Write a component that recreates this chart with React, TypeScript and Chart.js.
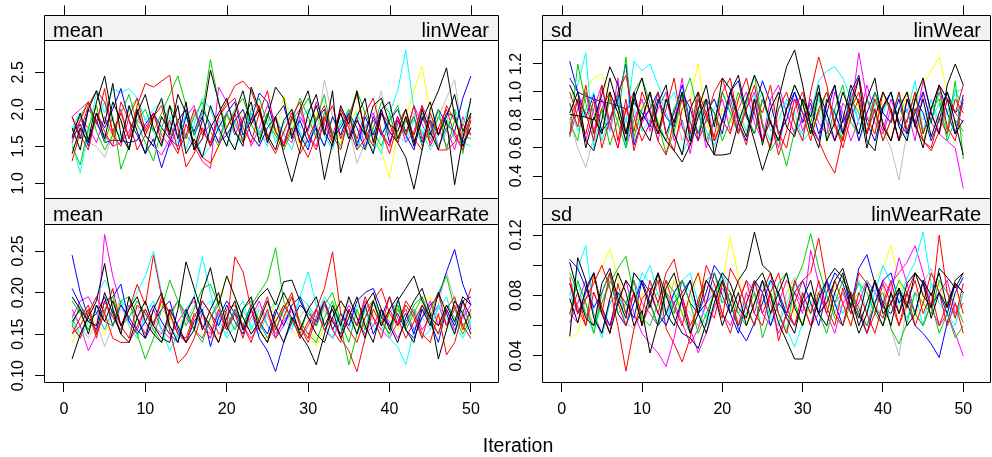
import React, { useEffect, useRef } from "react";
import { Chart, registerables } from "chart.js";

Chart.register(...registerables);

// ---------------- data ----------------
const iterations = [
  1, 2, 3, 4, 5, 6, 7, 8, 9, 10, 11, 12, 13, 14, 15, 16, 17, 18, 19, 20, 21, 22, 23, 24, 25,
  26, 27, 28, 29, 30, 31, 32, 33, 34, 35, 36, 37, 38, 39, 40, 41, 42, 43, 44, 45, 46, 47, 48, 49, 50,
];
const xTickValues = [0, 10, 20, 30, 40, 50];
const xTickLabels = ["0", "10", "20", "30", "40", "50"];

const chainColors = [
  "#000000", "#000000", "#000000", "#FF0000", "#FF0000", "#FF0000", "#00CD00", "#00CD00",
  "#0000FF", "#0000FF", "#00FFFF", "#00FFFF", "#FF00FF", "#FF00FF", "#FFFF00", "#BEBEBE",
];

const meanLinWear = [
  [1.62,1.95,1.58,2.10,2.45,1.85,1.55,2.05,1.70,1.40, 1.90,2.15,1.65,2.20,1.95,1.45,1.60,2.05,1.75,1.50, 1.95,2.25,1.80,2.00,1.55,1.90,1.40,1.02,1.45,1.95, 2.20,1.70,1.50,2.05,1.80,2.25,1.65,1.40,1.95,1.70, 1.55,1.35,0.92,1.45,2.00,2.25,2.56,1.90,1.50,1.75],
  [1.75,1.45,2.00,2.25,1.80,2.35,1.65,1.45,1.95,2.20, 1.75,1.50,2.05,1.60,2.10,1.45,1.85,2.53,2.10,1.65, 1.45,1.85,2.10,1.55,1.90,2.30,2.15,1.60,2.00,2.25, 1.75,1.05,1.55,1.95,1.60,1.90,2.15,1.55,2.00,2.10, 1.60,1.90,1.50,2.00,1.70,1.45,1.85,0.98,1.60,2.15],
  [1.40,1.75,1.55,1.95,1.60,2.10,1.85,1.45,2.00,1.65, 1.50,1.90,1.70,2.05,1.40,1.60,1.35,1.75,1.95,2.15, 1.70,1.50,2.30,2.00,1.65,1.45,1.85,2.00,1.55,1.75, 2.05,1.65,2.25,1.14,1.55,1.85,1.65,2.05,2.15,1.80, 1.70,2.00,1.55,1.85,2.10,1.65,1.90,2.20,1.70,1.95],
  [1.30,1.70,2.05,2.25,2.10,1.70,1.95,1.60,2.05,2.35, 2.30,2.38,2.46,1.75,1.22,1.40,1.75,1.50,1.90,2.05, 2.15,1.75,1.55,1.95,2.25,1.70,1.50,1.90,2.10,1.65, 1.45,1.85,2.05,1.60,1.90,2.20,1.70,1.50,1.95,1.80, 1.55,1.90,1.65,2.05,1.50,1.75,2.00,1.65,1.45,1.85],
  [1.55,1.85,2.10,1.80,2.28,1.65,1.50,1.90,2.15,1.70, 1.95,1.55,1.85,1.45,1.65,2.00,1.70,1.55,1.90,2.10, 2.32,2.38,2.25,1.95,1.60,1.90,1.50,1.75,1.40,1.60, 1.85,2.05,1.65,1.45,1.90,1.60,1.95,2.15,1.70,1.50, 1.90,1.65,2.05,1.60,1.85,1.45,1.45,1.55,1.80,1.65],
  [1.90,1.65,1.45,1.95,1.70,1.50,2.10,1.85,1.45,1.65, 1.90,2.05,1.60,1.40,1.80,1.55,1.35,1.27,1.50,1.75, 1.95,1.55,1.80,2.05,1.60,1.40,1.70,1.95,1.55,1.35, 1.65,1.90,1.55,2.00,1.75,1.45,1.60,1.85,1.70,1.40, 1.80,2.00,1.60,1.45,1.95,1.65,2.05,1.85,1.60,1.90],
  [1.50,1.25,1.75,2.05,1.55,1.90,1.19,1.50,1.85,2.00, 1.70,1.95,2.20,2.45,2.05,1.65,1.95,2.67,2.10,1.75, 2.00,2.15,1.80,1.60,1.95,1.70,1.50,1.85,2.15,1.90, 1.60,1.95,1.70,1.50,1.90,2.25,1.95,1.70,1.50,1.85, 2.05,1.65,1.90,1.50,1.75,2.00,1.45,1.85,1.65,1.60],
  [1.70,1.90,2.10,1.70,1.45,1.65,1.95,2.20,1.80,1.55, 1.30,1.75,2.05,1.85,1.60,1.90,2.10,1.70,1.50,1.95, 1.70,1.55,2.00,2.15,1.80,1.65,1.45,1.70,1.95,2.15, 1.85,2.20,1.60,1.80,2.00,1.55,1.45,1.75,2.10,1.95, 1.55,1.85,1.65,1.95,1.60,1.90,1.70,2.00,1.40,1.95],
  [1.60,1.80,1.50,1.95,1.75,2.00,2.28,1.85,1.65,1.40, 1.60,1.21,1.55,1.85,2.00,1.65,1.90,1.50,1.75,1.95, 2.10,1.65,1.85,2.22,2.10,1.70,1.50,1.90,1.65,1.45, 1.85,2.00,1.60,1.75,1.95,1.50,1.90,1.65,2.00,1.55, 1.85,1.65,1.45,1.90,1.65,2.00,1.80,1.70,2.15,2.45],
  [1.90,1.60,2.00,1.85,1.55,1.58,1.58,1.55,1.58,1.80, 1.95,1.75,1.60,1.50,1.90,1.70,2.00,1.80,1.55,1.65, 1.85,2.00,1.65,1.50,1.75,1.90,2.05,1.65,1.85,1.55, 1.75,1.50,1.90,1.65,1.95,1.75,1.45,1.90,1.65,1.85, 2.00,1.70,1.90,1.55,1.85,1.65,1.95,1.90,1.55,1.75],
  [1.55,1.14,1.70,2.22,1.95,2.28,2.22,2.28,2.15,1.85, 1.70,1.50,1.90,1.65,1.45,1.80,2.15,2.00,1.70,1.50, 1.85,1.60,1.95,1.70,1.50,1.90,1.65,1.45,1.85,2.00, 1.70,1.50,1.90,1.65,2.00,1.45,1.80,1.60,1.40,1.95, 2.25,2.80,2.00,1.65,1.90,1.50,1.70,2.00,1.80,2.10],
  [1.75,1.95,1.60,1.85,2.10,1.85,1.60,2.00,2.15,1.85, 2.00,2.10,1.75,1.55,1.95,1.70,1.35,1.50,1.85,1.65, 1.45,1.75,1.95,1.65,1.90,1.55,1.80,2.00,1.70,1.50, 1.90,1.65,1.45,1.85,1.60,1.95,1.70,1.42,1.65,1.90, 1.65,1.55,1.85,1.70,1.45,1.65,1.90,1.60,1.55,1.50],
  [1.90,2.00,2.10,1.80,1.65,1.50,1.55,1.70,1.95,1.65, 1.50,1.38,1.60,1.85,1.65,1.50,1.30,1.20,2.30,2.10, 1.80,1.60,1.90,1.65,1.95,1.70,1.55,1.85,2.00,1.65, 1.50,1.90,1.65,2.00,1.80,1.55,1.75,1.95,1.65,1.50, 1.90,1.65,2.05,1.80,1.55,1.75,1.50,1.70,1.45,1.95],
  [1.65,1.85,1.75,1.55,1.90,1.65,2.00,1.60,1.85,1.75, 1.95,1.65,1.50,1.75,1.90,2.05,1.65,1.80,1.55,1.95, 1.65,1.90,1.50,1.75,2.05,1.85,1.65,1.55,1.90,1.70, 2.10,1.80,1.55,1.95,1.65,1.90,1.50,1.75,2.00,1.65, 1.90,1.55,1.70,2.05,1.80,1.50,1.75,1.45,1.90,1.65],
  [1.45,1.60,1.80,2.05,1.85,1.60,1.85,2.00,2.10,1.65, 1.90,1.70,1.55,1.85,2.00,1.50,1.28,1.20,1.55,1.90, 1.70,2.00,1.80,1.60,1.95,1.65,2.18,1.85,1.50,1.75, 1.95,1.65,1.90,1.55,1.75,2.00,1.80,1.60,1.45,1.07, 1.70,1.90,2.25,2.58,1.95,1.65,1.85,1.60,1.85,1.75],
  [1.70,1.90,1.55,1.50,1.35,1.65,1.85,1.65,2.00,1.75, 1.55,1.90,1.65,1.85,1.60,1.95,1.70,1.55,1.90,1.65, 1.85,1.60,1.95,1.70,1.55,1.90,1.65,2.00,1.75,1.85, 1.65,2.40,1.90,1.60,1.75,1.27,1.55,1.90,2.25,1.70, 1.85,1.60,1.95,1.70,1.55,1.90,2.15,2.40,1.65,1.85],
];

const sdLinWear = [
  [.85,1.00,.65,.58,.80,1.10,.90,.70,1.00,.75, .65,.92,1.05,.70,.55,.88,1.00,.65,.55,.80, 1.00,1.12,.85,.65,.44,.62,.95,1.18,1.30,1.05, .75,.60,.92,1.05,.70,.88,1.10,.65,.58,.90, 1.00,.75,.65,.95,1.10,.85,.70,1.05,1.20,1.05],
  [.84,.83,.82,.80,.98,1.18,1.05,.70,.95,.80, 1.00,.75,.65,.58,.50,.62,.82,.95,.55,.55, .56,.78,.95,1.12,.98,.78,.65,.88,1.05,.92, .70,1.00,.85,.65,.80,1.05,.92,.60,.82,1.00, .88,.65,.95,.78,.60,.88,1.05,.95,.70,.80],
  [1.05,.92,.60,.82,.70,1.00,.85,.65,.95,1.10, .85,.70,.95,.78,1.00,.65,.88,1.05,.75,1.10, 1.02,.82,.68,.95,.62,.88,1.00,.75,.68,.95, .82,1.05,.65,.78,1.00,.85,.70,.95,1.10,.75, .65,.88,1.00,.75,.95,.68,.85,1.00,.78,.55],
  [.92,.75,1.05,.70,.88,1.00,.65,.95,.58,.80, 1.00,.70,.88,1.10,.75,.62,.95,.82,.68,1.00, 1.10,.78,.62,.95,.85,1.05,.70,.60,.88,1.00, .75,.65,.52,.42,.68,.95,1.10,.82,.70,1.00, .85,.65,.80,1.00,.70,.88,1.05,.75,.65,.95],
  [1.00,.82,.70,.95,.60,.80,1.00,1.12,.82,.65, .78,1.00,.70,.58,.88,.95,.65,.80,1.00,1.10, .90,.70,.88,1.05,.75,.60,.88,1.00,.78,.65, 1.00,1.25,1.05,.75,.65,.88,1.00,.70,.95,.78, .65,.88,1.00,.75,.65,.58,.72,.95,.85,1.05],
  [.70,.95,.85,.65,1.05,.78,.60,.88,.72,1.00, .85,.65,.55,.80,.95,.70,1.00,.85,.65,.80, .70,.95,1.10,.85,.65,.80,.55,.72,.95,.85, .65,.88,1.00,.78,.60,.82,.95,.70,.88,.65, .80,1.00,.72,.88,.65,.60,.82,.70,.95,.85],
  [.68,1.20,.92,.70,.88,.62,.80,1.25,.68,.88, 1.00,.78,.56,.72,.95,1.10,.85,.65,.80,1.00, .85,.70,.92,1.12,.78,.58,.68,.47,.72,.95, .78,1.00,.65,.88,1.05,.78,.70,.95,.85,.65, .80,1.00,.72,.88,.65,.80,1.00,.72,1.08,.52],
  [.78,.65,1.00,.85,.70,.95,.78,.60,1.00,1.10, .92,.78,.65,.88,1.00,.78,.70,.95,.85,.65, .80,1.00,.85,.70,.95,.78,.65,.88,1.05,.92, .70,.85,1.00,.78,.65,.95,.85,.70,1.00,.78, .65,.88,.78,1.00,.70,.88,.95,.65,.80,.72],
  [1.22,1.00,.82,.98,.72,.80,.95,1.20,.62,.80, .88,1.00,.70,.85,1.05,.78,.65,.95,.85,.70, 1.00,.78,.65,.88,1.08,.92,.70,.80,1.00,.85, .78,.65,.95,.85,.70,1.00,1.12,.78,.65,.88, 1.00,.78,.70,.95,.85,.65,.80,1.00,.85,.92],
  [1.10,1.00,.97,.95,.93,.92,.90,.88,.92,.85, .75,.95,.82,.75,1.00,.88,.70,.85,.95,.78, 1.00,1.08,.82,.70,.95,.78,.65,.88,1.00,.78, .92,.70,.85,1.05,.78,.92,.65,.85,1.00,.85, .78,.95,.70,.85,1.00,.78,1.05,.85,.70,.98],
  [.95,1.05,1.28,.60,.88,.72,.98,.78,1.22,1.15, 1.20,1.05,.90,1.00,.78,.65,.88,.72,.62,.80, .92,.85,.72,.98,.78,.65,.88,.92,.78,.70, .85,1.08,1.15,1.18,1.10,.95,.78,.70,.92,.85, .78,.98,.85,1.08,.72,.80,.92,.68,1.02,.88],
  [.92,.72,.88,1.00,.65,.82,.95,.60,.88,.72, .80,1.00,.85,.70,.56,.68,.95,.78,.88,1.00, .85,.78,.65,.88,1.00,.72,.80,.95,.85,.65, .72,.95,.78,.88,.65,1.00,.78,.70,.95,.85, 1.00,.78,.65,.88,.72,.95,.78,.85,1.00,1.02],
  [.80,.95,.65,.88,1.05,.72,1.10,.60,.80,.95, .72,.88,1.00,.65,.80,.56,.88,.95,.65,.80, .95,.72,.88,1.00,.65,.80,.60,.88,.95,.72, .88,1.00,.78,.65,.92,.85,1.28,.95,.78,.70, .88,.65,.95,.78,1.08,.85,.70,.65,.60,.31],
  [.68,.88,1.00,.72,.95,.78,.60,.88,1.00,.78, .88,.65,.95,.78,1.10,.70,.88,.60,.80,.95, .72,.88,1.00,.78,.65,.95,1.05,.85,.70,.80, .95,.78,.70,1.00,.85,.65,.80,1.05,.85,.72, .95,.78,.88,.65,1.00,.78,.70,.95,.85,.78],
  [.88,.95,1.02,1.10,1.13,.95,.78,.88,.72,.92, .85,.75,.98,.70,.88,.95,1.20,.78,.65,.88, .78,.95,.70,.88,1.00,.78,.65,.88,.95,.78, .70,.88,.95,.78,.65,1.00,.88,.78,.70,.95, .85,.78,1.00,.92,1.05,1.15,1.25,1.00,.85,.78],
  [.80,.60,.46,.68,.88,.72,.95,.80,.65,.88, .78,.95,.70,.88,.65,.80,.95,.72,.60,.88, .80,.72,.95,.85,.65,.80,1.00,.85,.72,.80, .95,.85,.70,.80,1.00,.85,.65,.80,.88,.72, .60,.37,.72,.88,.80,.95,.72,.88,.80,.68],
];

const meanLinWearRate = [
  [.120,.150,.170,.190,.235,.180,.150,.195,.170,.145, .180,.200,.160,.140,.175,.195,.155,.180,.200,.160, .140,.180,.195,.155,.140,.175,.200,.180,.150,.135, .113,.150,.185,.160,.195,.170,.145,.190,.160,.180, .195,.155,.140,.180,.160,.200,.175,.150,.190,.170],
  [.195,.180,.165,.160,.200,.175,.150,.140,.170,.190, .160,.145,.140,.180,.237,.205,.175,.160,.140,.170, .190,.155,.180,.195,.205,.185,.213,.215,.190,.170, .150,.140,.170,.190,.175,.150,.185,.200,.170,.160, .140,.170,.190,.205,.175,.120,.155,.190,.175,.150],
  [.165,.180,.150,.185,.165,.190,.160,.180,.195,.165, .150,.140,.180,.160,.140,.155,.200,.230,.185,.220, .195,.170,.150,.165,.190,.160,.140,.170,.155,.180, .195,.160,.180,.145,.170,.195,.160,.140,.180,.155, .190,.205,.220,.190,.170,.160,.185,.165,.195,.185],
  [.150,.160,.180,.145,.190,.170,.155,.180,.210,.185, .245,.195,.155,.115,.125,.145,.175,.155,.140,.180, .185,.160,.140,.170,.195,.155,.180,.200,.160,.140, .170,.190,.155,.140,.180,.160,.195,.170,.145,.180, .160,.185,.170,.145,.180,.200,.160,.185,.155,.180],
  [.160,.145,.175,.195,.175,.205,.160,.145,.185,.175, .160,.195,.175,.150,.140,.170,.190,.175,.150,.160, .243,.225,.180,.155,.180,.145,.170,.195,.160,.145, .180,.205,.249,.175,.155,.140,.170,.190,.205,.175, .160,.190,.175,.150,.140,.175,.125,.140,.175,.205],
  [.150,.170,.185,.150,.175,.145,.140,.140,.160,.180, .160,.190,.175,.150,.145,.175,.160,.145,.180,.155, .175,.145,.180,.155,.140,.165,.185,.170,.145,.165, .180,.155,.170,.145,.130,.105,.145,.180,.160,.195, .170,.145,.165,.185,.170,.150,.180,.195,.160,.145],
  [.190,.175,.155,.185,.165,.160,.190,.195,.150,.120, .145,.180,.215,.190,.160,.180,.205,.210,.185,.155, .180,.160,.185,.200,.215,.254,.190,.165,.150,.180, .160,.185,.200,.165,.140,.180,.155,.190,.165,.150, .185,.155,.175,.195,.165,.150,.185,.170,.150,.170],
  [.160,.185,.170,.150,.180,.195,.160,.170,.190,.175, .155,.140,.170,.190,.175,.155,.140,.170,.190,.175, .155,.180,.190,.165,.145,.165,.180,.195,.165,.150, .140,.170,.190,.160,.113,.150,.180,.190,.165,.150, .180,.160,.185,.195,.170,.200,.220,.180,.160,.175],
  [.245,.200,.170,.155,.190,.195,.210,.165,.150,.165, .185,.165,.150,.140,.180,.155,.190,.175,.160,.185, .165,.150,.180,.145,.130,.105,.140,.165,.185,.175, .165,.190,.155,.175,.160,.190,.200,.205,.180,.160, .175,.155,.145,.170,.185,.195,.225,.252,.210,.185],
  [.205,.185,.165,.175,.195,.160,.185,.170,.155,.145, .165,.180,.190,.155,.140,.165,.180,.135,.170,.190, .175,.160,.185,.165,.150,.180,.160,.185,.195,.170, .160,.190,.165,.150,.180,.160,.185,.150,.170,.195, .160,.175,.150,.185,.165,.140,.180,.160,.190,.195],
  [.170,.150,.175,.195,.215,.200,.190,.180,.200,.220, .250,.200,.160,.145,.180,.195,.243,.200,.160,.150, .175,.190,.155,.180,.160,.150,.185,.165,.195,.185, .170,.195,.180,.160,.180,.150,.170,.190,.175,.145, .135,.113,.155,.185,.160,.180,.195,.160,.145,.165],
  [.165,.145,.165,.175,.155,.180,.190,.160,.145,.175, .190,.155,.130,.150,.175,.155,.180,.190,.170,.145, .160,.180,.160,.150,.175,.190,.170,.155,.195,.225, .185,.160,.145,.175,.155,.185,.175,.160,.150,.175, .190,.160,.180,.145,.155,.185,.170,.150,.180,.160],
  [.180,.160,.130,.150,.270,.220,.185,.165,.155,.180, .160,.150,.175,.190,.170,.155,.145,.170,.185,.160, .180,.155,.170,.190,.160,.145,.160,.180,.165,.150, .165,.185,.165,.150,.180,.160,.190,.170,.155,.145, .165,.180,.155,.170,.190,.160,.180,.155,.170,.185],
  [.170,.190,.195,.175,.155,.180,.160,.185,.170,.150, .180,.155,.145,.165,.180,.190,.160,.150,.175,.155, .180,.160,.145,.160,.175,.150,.165,.180,.145,.160, .180,.155,.145,.165,.185,.170,.150,.160,.180,.165, .145,.165,.180,.155,.170,.185,.160,.180,.190,.155],
  [.140,.160,.180,.165,.150,.175,.190,.160,.145,.155, .170,.185,.170,.155,.180,.160,.145,.170,.190,.220, .195,.170,.155,.175,.160,.190,.175,.155,.145,.165, .135,.160,.180,.190,.170,.155,.180,.160,.185,.170, .155,.180,.165,.185,.195,.165,.155,.180,.160,.170],
  [.175,.160,.145,.165,.135,.160,.180,.170,.185,.160, .155,.180,.170,.150,.165,.185,.170,.155,.180,.160, .175,.150,.165,.185,.170,.155,.180,.160,.170,.185, .160,.180,.155,.170,.190,.175,.160,.170,.155,.180, .185,.160,.180,.170,.155,.185,.225,.190,.170,.160],
];

const sdLinWearRate = [
  [.053,.105,.090,.065,.055,.078,.095,.082,.060,.070, .042,.062,.085,.095,.075,.055,.068,.090,.082,.060, .075,.090,.098,.122,.100,.095,.080,.065,.055,.078, .090,.068,.060,.082,.095,.072,.055,.068,.090,.075, .060,.085,.072,.095,.088,.065,.082,.072,.090,.095],
  [.102,.082,.065,.060,.088,.098,.078,.065,.095,.088, .072,.095,.080,.065,.055,.052,.045,.062,.082,.095, .088,.072,.065,.088,.095,.080,.062,.050,.038,.038, .058,.078,.090,.098,.092,.078,.065,.088,.072,.060, .082,.068,.088,.095,.080,.072,.098,.092,.085,.095],
  [.078,.062,.085,.095,.068,.055,.075,.090,.082,.060, .082,.095,.068,.060,.078,.090,.068,.055,.075,.090, .068,.082,.060,.075,.090,.068,.082,.095,.072,.060, .082,.068,.075,.090,.098,.080,.060,.075,.090,.068, .075,.085,.060,.068,.090,.080,.095,.072,.088,.082],
  [.092,.068,.078,.088,.100,.085,.060,.030,.058,.078, .085,.068,.090,.072,.060,.082,.095,.072,.065,.088, .082,.060,.075,.090,.068,.082,.095,.072,.060,.082, .068,.090,.072,.060,.085,.068,.095,.088,.072,.065, .082,.060,.075,.090,.068,.082,.060,.075,.088,.068],
  [.068,.082,.060,.095,.072,.055,.088,.068,.082,.060, .075,.090,.058,.048,.036,.052,.078,.090,.080,.065, .098,.088,.072,.060,.082,.095,.068,.055,.075,.090, .095,.118,.088,.068,.060,.082,.072,.055,.068,.088, .075,.060,.082,.095,.088,.072,.120,.082,.065,.088],
  [.088,.072,.060,.082,.068,.095,.075,.060,.082,.068, .090,.075,.095,.104,.080,.060,.072,.100,.088,.068, .055,.075,.090,.068,.060,.082,.050,.068,.090,.075, .060,.082,.068,.090,.075,.060,.082,.068,.055,.075, .090,.068,.082,.060,.075,.095,.082,.060,.075,.055],
  [.095,.082,.068,.060,.075,.088,.098,.106,.080,.065, .060,.075,.090,.082,.068,.055,.075,.090,.095,.075, .082,.068,.060,.075,.090,.082,.068,.055,.088,.100, .121,.098,.080,.065,.060,.075,.088,.082,.068,.060, .075,.090,.082,.068,.060,.075,.055,.068,.052,.060],
  [.068,.090,.075,.055,.082,.095,.068,.075,.090,.062, .075,.060,.082,.068,.090,.075,.055,.068,.082,.090, .075,.060,.068,.082,.052,.068,.088,.095,.075,.060, .082,.068,.055,.075,.090,.082,.068,.060,.075,.082, .058,.048,.062,.082,.075,.068,.090,.082,.075,.062],
  [.104,.098,.085,.072,.082,.095,.068,.060,.075,.090, .082,.068,.060,.075,.082,.090,.068,.075,.095,.080, .068,.055,.075,.090,.082,.060,.075,.068,.082,.090, .075,.060,.082,.095,.088,.072,.098,.107,.088,.072, .068,.082,.075,.060,.055,.048,.039,.062,.082,.092],
  [.088,.068,.082,.095,.072,.060,.082,.075,.065,.090, .075,.060,.068,.082,.090,.075,.068,.082,.100,.092, .075,.058,.050,.062,.075,.090,.082,.068,.060,.075, .082,.068,.090,.075,.060,.082,.068,.055,.075,.090, .095,.075,.082,.068,.090,.072,.082,.068,.088,.082],
  [.080,.098,.113,.068,.052,.075,.082,.068,.095,.088, .100,.080,.068,.075,.090,.082,.068,.060,.075,.095, .082,.068,.075,.090,.082,.065,.060,.075,.088,.080, .068,.075,.090,.082,.068,.075,.082,.090,.075,.065, .080,.075,.092,.102,.122,.088,.075,.068,.060,.082],
  [.075,.088,.068,.055,.075,.090,.082,.060,.075,.095, .088,.075,.060,.082,.090,.095,.075,.065,.082,.075, .082,.068,.075,.060,.082,.090,.068,.058,.046,.062, .075,.082,.090,.068,.082,.075,.090,.068,.082,.100, .088,.075,.065,.082,.060,.088,.082,.075,.065,.082],
  [.068,.062,.078,.082,.068,.060,.075,.090,.068,.055, .048,.042,.033,.052,.078,.058,.042,.055,.072,.085, .075,.060,.082,.068,.090,.075,.055,.068,.082,.075, .060,.068,.090,.075,.082,.068,.075,.090,.082,.072, .088,.095,.102,.113,.095,.072,.060,.068,.055,.040],
  [.062,.075,.090,.068,.055,.075,.082,.068,.090,.075, .068,.060,.082,.075,.062,.048,.058,.075,.082,.068, .060,.075,.090,.082,.068,.060,.075,.090,.082,.068, .110,.088,.068,.055,.075,.082,.068,.060,.075,.090, .082,.105,.088,.068,.060,.075,.082,.090,.068,.075],
  [.052,.055,.078,.090,.098,.111,.092,.072,.065,.082, .075,.060,.082,.090,.068,.075,.095,.080,.072,.088, .119,.092,.072,.060,.082,.068,.075,.090,.068,.060, .075,.082,.068,.090,.075,.060,.082,.088,.092,.098, .113,.090,.072,.065,.082,.072,.088,.068,.082,.072],
  [.082,.068,.075,.060,.082,.075,.068,.062,.058,.068, .075,.082,.068,.090,.075,.068,.060,.075,.088,.082, .075,.068,.082,.090,.075,.068,.060,.082,.092,.075, .068,.082,.088,.075,.068,.082,.075,.060,.082,.088, .058,.040,.075,.082,.088,.098,.082,.075,.068,.082],
];

const yTicksMeanLinWear = [1.0, 1.5, 2.0, 2.5];
const yLabelsMeanLinWear = ["1.0", "1.5", "2.0", "2.5"];
const yTicksSdLinWear = [0.4, 0.6, 0.8, 1.0, 1.2];
const yLabelsSdLinWear = ["0.4", "0.6", "0.8", "1.0", "1.2"];
const yTicksMeanLinWearRate = [0.1, 0.15, 0.2, 0.25];
const yLabelsMeanLinWearRate = ["0.10", "0.15", "0.20", "0.25"];
const yTicksSdLinWearRate = [0.04, 0.06, 0.08, 0.1, 0.12];
const yLabelsSdLinWearRate = ["0.04", "", "0.08", "", "0.12"];

// ---------------- layout / style ----------------
const W = 992;
const H = 457;
const FONT = "'Liberation Sans', Arial, Helvetica, sans-serif";

type Panel = {
  stat: string;
  variable: string;
  series: number[][];
  yMin: number;
  yMax: number;
  yTicks: number[];
  yLabels: string[];
  left: number;
  right: number;
  stripTop: number;
  top: number;
  bottom: number;
  bottomRow: boolean;
};

const panels: Panel[] = [
  { stat: "mean", variable: "linWear", series: meanLinWear, yMin: 0.801, yMax: 2.936, yTicks: yTicksMeanLinWear, yLabels: yLabelsMeanLinWear, left: 44, right: 499, stripTop: 15, top: 40, bottom: 198, bottomRow: false },
  { stat: "sd", variable: "linWear", series: sdLinWear, yMin: 0.243, yMax: 1.371, yTicks: yTicksSdLinWear, yLabels: yLabelsSdLinWear, left: 542, right: 991, stripTop: 15, top: 40, bottom: 198, bottomRow: false },
  { stat: "mean", variable: "linWearRate", series: meanLinWearRate, yMin: 0.0924, yMax: 0.2825, yTicks: yTicksMeanLinWearRate, yLabels: yLabelsMeanLinWearRate, left: 44, right: 499, stripTop: 198, top: 224, bottom: 382, bottomRow: true },
  { stat: "sd", variable: "linWearRate", series: sdLinWearRate, yMin: 0.0228, yMax: 0.1273, yTicks: yTicksSdLinWearRate, yLabels: yLabelsSdLinWearRate, left: 542, right: 991, stripTop: 198, top: 224, bottom: 382, bottomRow: true },
];

const Y_AXIS_W = 40;
const X_AXIS_H = 40;

function makePanelPlugin(p: Panel) {
  return {
    id: "latticePanel",
    afterDraw(chart: any) {
      const ctx = chart.ctx as CanvasRenderingContext2D;
      const xs = chart.scales.x;
      const ys = chart.scales.y;
      const ca = chart.chartArea;
      const L = Math.round(ca.left) + 0.5;
      const R = Math.round(ca.right) - 0.5;
      const T = Math.round(ca.top) + 0.5;
      const B = Math.round(ca.bottom) + 0.5;
      const S = p.stripTop + 0.5;
      ctx.save();
      // strip
      ctx.fillStyle = "#F2F2F2";
      ctx.fillRect(L, S, R - L, T - S);
      ctx.strokeStyle = "#000";
      ctx.lineWidth = 1;
      ctx.beginPath();
      ctx.rect(L, S, R - L, B - S);
      ctx.moveTo(L, T);
      ctx.lineTo(R, T);
      ctx.stroke();
      // strip texts
      ctx.fillStyle = "#000";
      ctx.font = `20px ${FONT}`;
      ctx.textBaseline = "alphabetic";
      ctx.textAlign = "left";
      ctx.fillText(p.stat, ca.left + 9, T - 4);
      ctx.textAlign = "right";
      ctx.fillText(p.variable, ca.right - 10, T - 4);
      // top x ticks (top row)
      if (!p.bottomRow) {
        ctx.beginPath();
        xTickValues.forEach((v) => {
          const px = Math.round(xs.getPixelForValue(v)) + 0.5;
          ctx.moveTo(px, S);
          ctx.lineTo(px, S - 10);
        });
        ctx.stroke();
      }
      // y tick labels (rotated, as in lattice)
      ctx.font = `16px ${FONT}`;
      ctx.textAlign = "center";
      ctx.textBaseline = "middle";
      ys.ticks.forEach((t: any, i: number) => {
        const lab = p.yLabels[i];
        if (!lab) return;
        const py = ys.getPixelForValue(t.value);
        ctx.save();
        ctx.translate(ca.left - 25, py);
        ctx.rotate(-Math.PI / 2);
        ctx.fillText(lab, 0, 0);
        ctx.restore();
      });
      ctx.restore();
    },
  };
}

function PanelChart({ p }: { p: Panel }) {
  const ref = useRef<HTMLCanvasElement | null>(null);
  useEffect(() => {
    if (!ref.current) return;
    const xH = p.bottomRow ? X_AXIS_H : 0;
    const chart = new Chart(ref.current, {
      type: "line",
      data: {
        datasets: p.series.map((vals, i) => ({
          data: vals.map((v, j) => ({ x: iterations[j], y: v })),
          borderColor: chainColors[i % chainColors.length],
          borderWidth: 1,
          pointRadius: 0,
          tension: 0,
          fill: false,
        })),
      },
      options: {
        animation: false,
        responsive: false,
        devicePixelRatio: 1,
        layout: {
          padding: {
            left: p.left - Y_AXIS_W,
            right: W - p.right,
            top: p.top,
            bottom: H - p.bottom - xH,
          },
        },
        plugins: { legend: { display: false }, tooltip: { enabled: false } },
        scales: {
          x: {
            type: "linear",
            min: -2.45,
            max: 53.45,
            display: p.bottomRow,
            afterBuildTicks: (s: any) => {
              s.ticks = xTickValues.map((v) => ({ value: v }));
            },
            afterFit: (s: any) => {
              s.height = xH;
            },
            grid: { drawOnChartArea: false, tickLength: 10, color: "#000", lineWidth: 1 },
            border: { display: false },
            ticks: {
              color: "#000",
              font: { family: FONT, size: 16 },
              padding: 8,
              maxRotation: 0,
              autoSkip: false,
              callback: (v: any) => {
                const k = xTickValues.indexOf(Number(v));
                return k >= 0 ? xTickLabels[k] : "";
              },
            },
          },
          y: {
            type: "linear",
            min: p.yMin,
            max: p.yMax,
            afterBuildTicks: (s: any) => {
              s.ticks = p.yTicks.map((v) => ({ value: v }));
            },
            afterFit: (s: any) => {
              s.width = Y_AXIS_W;
            },
            grid: { drawOnChartArea: false, tickLength: 9, color: "#000", lineWidth: 1 },
            border: { display: false },
            ticks: { display: false },
          },
        },
      } as any,
      plugins: [makePanelPlugin(p)],
    });
    return () => chart.destroy();
  }, [p]);
  return (
    <canvas
      ref={ref}
      width={W}
      height={H}
      style={{ position: "absolute", left: 0, top: 0, width: W, height: H }}
    />
  );
}

export default function App() {
  return (
    <div
      style={{
        position: "fixed",
        left: 0,
        top: 0,
        width: W,
        height: H,
        background: "#fff",
        overflow: "hidden",
      }}
    >
      {panels.map((p, i) => (
        <PanelChart key={i} p={p} />
      ))}
      <div
        style={{
          position: "absolute",
          left: 0,
          width: 1036,
          top: 433,
          textAlign: "center",
          fontFamily: FONT,
          fontSize: 19.5,
          lineHeight: "24px",
          color: "#000",
        }}
      >
        Iteration
      </div>
    </div>
  );
}
